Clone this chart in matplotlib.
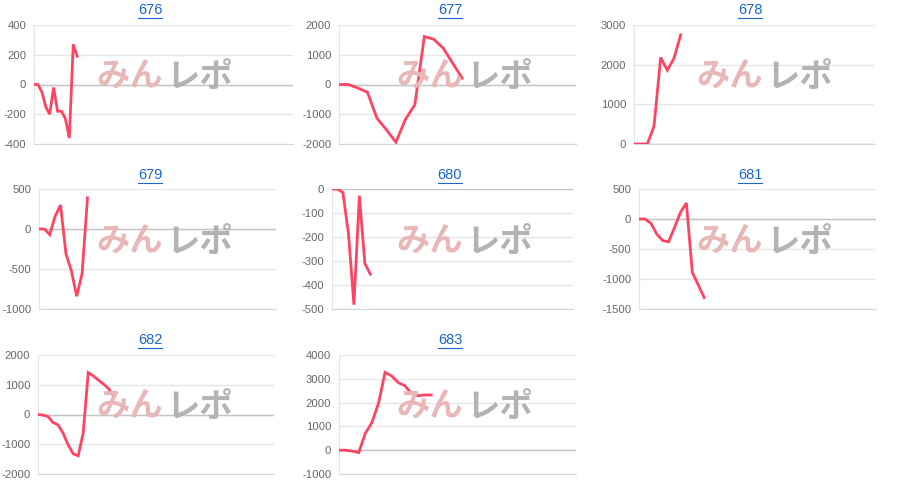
import matplotlib
matplotlib.use("Agg")
import matplotlib.pyplot as plt
from matplotlib.lines import Line2D
from matplotlib.ticker import MultipleLocator

plt.rcParams['font.family'] = ['Liberation Sans', 'Noto Sans CJK JP', 'DejaVu Sans']
plt.rcParams['axes.unicode_minus'] = False

# machine numbers and their slump data (differential coins per step)
titles = ["676", "677", "678", "679", "680", "681", "682", "683"]

data_676 = [0, 0, -50, -150, -200, -20, -180, -180, -230, -360, 270, 190]
data_677 = [0, 0, -120, -260, -1130, -1520, -1940, -1180, -680, 1610, 1520, 1220, 715, 210]
data_678 = [0, 0, 0, 450, 2180, 1860, 2160, 2750]
data_679 = [0, 0, -70, 160, 300, -310, -520, -840, -560, 390]
data_680 = [0, 0, -15, -185, -482, -28, -310, -355]
data_681 = [0, 0, -70, -250, -360, -380, -140, 110, 268, -890, -1100, -1310]
data_682 = [0, -20, -70, -270, -350, -630, -1020, -1320, -1390, -630, 1410, 1300, 1160, 1030, 880, 630]
data_683 = [0, 0, -40, -100, 710, 1160, 1970, 3270, 3120, 2840, 2710, 2390, 2290, 2320, 2320]

series = [data_676, data_677, data_678, data_679, data_680, data_681, data_682, data_683]
n_labels = [67, 26, 37, 45, 45, 41, 48, 37]
y_ranges = [(-400, 400), (-2000, 2000), (0, 3000), (-1000, 500),
            (-500, 0), (-1500, 500), (-2000, 2000), (-1000, 4000)]
y_steps = [200, 1000, 1000, 500, 100, 500, 1000, 1000]

# plot area in pixels: left, top, right, bottom
boxes = [(34, 25, 293, 144), (339, 25, 576, 144), (634, 25, 874, 144),
         (39, 189, 276, 309), (332, 189, 573, 309), (639, 189, 876, 309),
         (38, 355, 274, 474), (339, 355, 576, 474)]

W, H = 900, 495
LINE = '#ff4463'
GRID = '#e6e6e6'


def add_chart(fig, i):
	l, t, r, b = boxes[i]
	ax = fig.add_axes([l / W, 1 - b / H, (r - l) / W, (b - t) / H])
	ys = series[i]
	ax.plot(range(len(ys)), ys, color=LINE, lw=2.0, zorder=5, solid_joinstyle='miter')
	ax.set_xlim(0, n_labels[i] - 1)
	ax.set_ylim(*y_ranges[i])
	ax.yaxis.set_major_locator(MultipleLocator(y_steps[i]))
	ax.set_xticks([])
	ax.tick_params(axis='y', length=0, pad=5.5, labelsize=8.1, labelcolor='#666666')
	ax.grid(axis='y', color=GRID, lw=1)
	ax.axhline(0, color='#c4c4c4', lw=1, zorder=2)
	for s in ['top', 'right']:
		ax.spines[s].set_visible(False)
	ax.spines['left'].set_color(GRID)
	ax.spines['bottom'].set_color('#d6d6d6')
	ax.set_axisbelow(True)
	ax.set_facecolor('none')
	return ax


def add_watermark(fig, cx, cy):
	fig.text((cx - 2) / W, 1 - cy / H, "みん", ha='right', va='center', fontsize=24,
		fontweight='bold', color='#e8b8b8', zorder=0)
	fig.text((cx + 2) / W, 1 - cy / H, "レポ", ha='left', va='center', fontsize=24,
		fontweight='bold', color='#b3b3b3', zorder=0)


fig = plt.figure(figsize=(9, 4.95), dpi=100)
title_texts = []
for i in range(len(titles)):
	row, col = divmod(i, 3)
	cell_x = col * 300
	cell_y = row * 165
	add_watermark(fig, cell_x + 165, cell_y + 78)
	add_chart(fig, i)
	tt = fig.text((cell_x + 150) / W, 1 - (cell_y + 10) / H, titles[i], ha='center', va='center',
		fontsize=10.5, color='#1a66cc')
	title_texts.append(tt)

# underline titles like links
fig.canvas.draw()
renderer = fig.canvas.get_renderer()
for tt in title_texts:
	bb = tt.get_window_extent(renderer)
	y = (bb.y0 - 0.5) / H
	fig.add_artist(Line2D([bb.x0 / W, bb.x1 / W], [y, y], color='#1a66cc', lw=0.8,
		transform=fig.transFigure))

fig.savefig('out.png', dpi=100)
